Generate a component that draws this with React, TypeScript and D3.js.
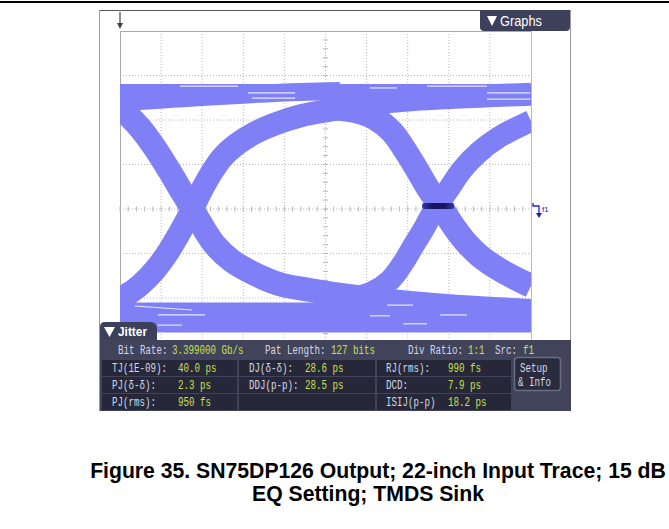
import React from 'react';
import * as d3 from 'd3';

const W = 669;
const H = 529;

// ---- Eye diagram traces (screen divisions: t = 0..10 horizontal, v = -4..4 vertical)
const topSettled: [number, number][] = [[-0.5, 2.63], [10.5, 2.63]];
const topSettling: [number, number][] = [[-0.19, 2.36], [0.56, 2.43], [2.43, 2.54], [4.38, 2.63], [5.35, 2.65]];
const bottomSettled: [number, number][] = [[-0.5, -2.44], [10.5, -2.44]];
const fallLeft: [number, number][] = [
  [-0.19, 2.45], [0.12, 2.18], [0.49, 1.82], [0.85, 1.37], [1.22, 0.83], [1.51, 0.38], [1.75, 0.02],
  [2.0, -0.38], [2.31, -0.81], [2.73, -1.17], [3.28, -1.46], [3.89, -1.69], [4.62, -1.82], [5.6, -1.96],
  [6.81, -2.09], [8.27, -2.2], [10.0, -2.29],
];
const riseLeft: [number, number][] = [
  [-0.19, -2.16], [0.12, -1.96], [0.49, -1.71], [0.85, -1.37], [1.17, -0.97], [1.46, -0.52], [1.65, -0.2],
  [1.8, 0.07], [1.95, 0.36], [2.19, 0.76], [2.48, 1.15], [2.85, 1.46], [3.28, 1.71], [3.77, 1.91],
  [4.38, 2.09], [5.11, 2.22], [6.08, 2.36], [7.3, 2.47], [10.0, 2.58],
];
const fallRight: [number, number][] = [
  [5.11, 2.27], [5.72, 2.2], [6.2, 2.04], [6.62, 1.73], [6.93, 1.33], [7.23, 0.88], [7.49, 0.47],
  [7.69, 0.2], [7.86, -0.02], [8.08, -0.34], [8.39, -0.72], [8.76, -1.06], [9.25, -1.37], [10.0, -1.73],
];
const riseRight: [number, number][] = [
  [4.87, -2.04], [5.6, -2.0], [6.13, -1.87], [6.57, -1.6], [6.89, -1.21], [7.15, -0.81], [7.4, -0.43],
  [7.59, -0.11], [7.79, 0.16], [8.03, 0.49], [8.32, 0.88], [8.71, 1.26], [9.2, 1.6], [10.0, 1.98],
];
// sparse gaps (white streaks) seen inside the rails: [t0, t1, v0, v1]
const railGaps: [number, number, number, number][] = [
  [1.46, 2.87, 2.76, 2.76],
  [3.11, 4.26, 2.61, 2.61],
  [3.21, 4.26, 2.49, 2.49],
  [6.08, 6.74, 2.72, 2.72],
  [7.47, 8.93, 2.76, 2.76],
  [8.93, 9.98, 2.61, 2.61],
  [8.93, 9.98, 2.47, 2.47],
  [0.36, 1.75, -2.18, -2.27],
  [0.92, 2.07, -2.38, -2.38],
  [6.08, 6.57, -2.4, -2.4],
  [6.5, 7.13, -2.16, -2.16],
  [6.89, 7.47, -2.58, -2.58],
  [7.79, 8.44, -2.38, -2.38],
  [0.92, 1.51, -2.61, -2.61],
];
const crossingSpan = [7.35, 8.13];
const crossingLevel = 0.07;

// ---- Jitter panel texts
const headerLabels = ['Bit Rate:', 'Pat Length:', 'Div Ratio:', 'Src:'];
const headerValues = ['3.399000 Gb/s', '127 bits', '1:1', 'f1'];
const jitterLabels = [
  ['TJ(1E-09):', 'DJ(δ-δ):', 'RJ(rms):'],
  ['PJ(δ-δ):', 'DDJ(p-p):', 'DCD:'],
  ['PJ(rms):', '', 'ISIJ(p-p)'],
];
const jitterValues = [
  ['40.0 ps', '28.6 ps', '990 fs'],
  ['2.3 ps', '28.5 ps', '7.9 ps'],
  ['950 fs', '', '18.2 ps'],
];
const captionLines = ['Figure 35. SN75DP126 Output; 22-inch Input Trace; 15 dB', 'EQ Setting; TMDS Sink'];

export default function App() {
  const x = d3.scaleLinear().domain([0, 10]).range([120, 531]);
  const y = d3.scaleLinear().domain([-4, 4]).range([387, 31]);
  const line = d3
    .line<[number, number]>()
    .x((d) => x(d[0]))
    .y((d) => y(d[1]))
    .curve(d3.curveCatmullRom.alpha(0.5));

  const eyeColor = '#8080f6';
  const traces: { d: [number, number][]; w: number }[] = [
    { d: topSettled, w: 16 },
    { d: topSettling, w: 18 },
    { d: bottomSettled, w: 30 },
    { d: fallLeft, w: 24 },
    { d: riseLeft, w: 23 },
    { d: fallRight, w: 24 },
    { d: riseRight, w: 22 },
  ];

  const gridColor = '#b8b8b8';
  const xt = d3.range(1, 10).map((i) => x(i));
  const yt = d3.range(-3, 4).map((i) => y(i));
  const minorX = d3.range(0, 50).map((i) => x(i / 5));
  const minorY = d3.range(-20, 20).map((i) => y(i / 5));

  const mono = "'Liberation Mono', 'DejaVu Sans Mono', monospace";
  const fs = 13.5;
  const sx = 5.5 / (0.6 * fs);
  const labelColor = '#d6d9e6';
  const valueColor = '#c9e04a';

  const headerLabelX = [118, 265, 408, 495];
  const headerValueX = [172, 331, 468, 523];
  const colLabelX = [112, 249, 386];
  const colValueX = [178, 305, 448];
  const rowBase = [372, 389, 406];
  const rowTop = [360, 377, 394];
  const cellX = [[102, 237], [239, 375], [377, 511]];

  const T = (s: string, tx: number, ty: number, fill: string, key: string) => (
    <text key={key} transform={`translate(${tx},${ty}) scale(${sx},1)`} fill={fill}>
      {s}
    </text>
  );

  return (
    <svg width={W} height={H} style={{ position: 'absolute', left: 0, top: 0, background: '#fff' }}>
      <defs>
        <clipPath id="plotClip">
          <rect x={120} y={31} width={411} height={303} />
        </clipPath>
        <linearGradient id="xband" x1="0" x2="1" y1="0" y2="0">
          <stop offset="0" stopColor="#3a3aa8" />
          <stop offset="0.3" stopColor="#151560" />
          <stop offset="0.7" stopColor="#151560" />
          <stop offset="1" stopColor="#3a3aa8" />
        </linearGradient>
      </defs>
      {/* top rule */}
      <rect x={0} y={1} width={W} height={2} fill="#000" />

      {/* scope frame */}
      <rect x={99.5} y={10.5} width={471} height={400} fill="#fff" stroke="#9a9aa2" strokeWidth={1} />
      <line x1={100} x2={480} y1={10.5} y2={10.5} stroke="#555" strokeWidth={1} />

      {/* trigger arrow */}
      <line x1={120} x2={120} y1={12} y2={26} stroke="#444" strokeWidth={1.2} />
      <path d="M117,23 L120,29 L123,23 Z" fill="#444" />

      {/* Graphs tab */}
      <path d="M480,10 H570 V27 Q570,31 566,31 H484 Q480,31 480,27 Z" fill="#3d405a" />
      <path d="M487,16 L497,16 L492,26 Z" fill="#fff" />
      <text x={500} y={26} fontFamily="'Liberation Sans', Arial, sans-serif" fontSize={14} fill="#fff" textLength={42} lengthAdjust="spacingAndGlyphs">
        Graphs
      </text>

      {/* grid */}
      <g>
        {xt.map((gx, i) => (
          <line key={'gx' + i} x1={gx} x2={gx} y1={31} y2={340} stroke={gridColor} strokeWidth={1} strokeDasharray="1,2" />
        ))}
        {yt.map((gy, i) => (
          <line key={'gy' + i} x1={120} x2={531} y1={gy} y2={gy} stroke={gridColor} strokeWidth={1} strokeDasharray="1,2" />
        ))}
        {minorX.map((mx, i) => (
          <line key={'mx' + i} x1={mx} x2={mx} y1={y(0) - 2.5} y2={y(0) + 2.5} stroke={gridColor} strokeWidth={1} />
        ))}
        {minorY.map((my, i) => (
          <line key={'my' + i} x1={x(5) - 2.5} x2={x(5) + 2.5} y1={my} y2={my} stroke={gridColor} strokeWidth={1} />
        ))}
        <line x1={120} x2={531} y1={31.5} y2={31.5} stroke="#aaa" strokeWidth={1} />
        <line x1={120.5} x2={120.5} y1={31} y2={340} stroke="#aaa" strokeWidth={1} />
        <line x1={531.5} x2={531.5} y1={31} y2={340} stroke="#bbb" strokeWidth={1} />
      </g>

      {/* eye traces */}
      <g clipPath="url(#plotClip)">
        {traces.map((t, i) => (
          <path key={'tr' + i} d={line(t.d) || ''} fill="none" stroke={eyeColor} strokeWidth={t.w} strokeLinejoin="round" />
        ))}
        {railGaps.map((g, i) => (
          <line key={'gap' + i} x1={x(g[0])} x2={x(g[1])} y1={y(g[2])} y2={y(g[3])} stroke="#fff" strokeOpacity={0.8} strokeWidth={1.2} />
        ))}
        <rect
          x={x(crossingSpan[0])}
          y={y(crossingLevel) - 3}
          width={x(crossingSpan[1]) - x(crossingSpan[0])}
          height={6}
          rx={2}
          fill="url(#xband)"
        />
      </g>

      {/* f1 marker */}
      <g stroke="#2020d0" fill="none" strokeWidth={1.3}>
        <path d="M533,203 V206 H539 V214" />
      </g>
      <path d="M536,213 L542,213 L539,218 Z" fill="#2020d0" />
      <text x={542} y={212} fontFamily="'Liberation Sans', Arial, sans-serif" fontSize={8} fill="#2020d0">
        f1
      </text>

      {/* Jitter panel */}
      <path d="M100,340 V327 Q100,322 105,322 H150 Q157,322 157,329 V340 Z" fill="#3d405a" />
      <path d="M104,327 L115,327 L109.5,337 Z" fill="#fff" />
      <text x={118} y={336} fontFamily="'Liberation Sans', Arial, sans-serif" fontWeight="bold" fontSize={12.5} fill="#fff" textLength={29} lengthAdjust="spacingAndGlyphs">
        Jitter
      </text>
      <rect x={100} y={340} width={471} height={71} fill="#40435a" />
      {rowTop.map((ry, r) =>
        cellX.map((c, ci) => (
          <rect key={'cell' + r + ci} x={c[0]} y={ry} width={c[1] - c[0]} height={16} fill="#262839" />
        ))
      )}
      {/* setup button */}
      <rect x={514.5} y={357.5} width={46} height={33} rx={3} fill="#2a2c3e" stroke="#6a6d80" strokeWidth={1.5} />
      <g fontFamily={mono} fontSize={fs}>
        {T('Setup', 520, 372, labelColor, 'su1')}
        {T('& Info', 518, 386, labelColor, 'su2')}
      </g>

      <g fontFamily={mono} fontSize={fs}>
        {headerLabels.map((s, i) => T(s, headerLabelX[i], 354, labelColor, 'hl' + i))}
        {headerValues.map((s, i) => T(s, headerValueX[i], 354, valueColor, 'hv' + i))}
        {jitterLabels.map((row, r) => row.map((s, c) => (s ? T(s, colLabelX[c], rowBase[r], labelColor, 'jl' + r + c) : null)))}
        {jitterValues.map((row, r) => row.map((s, c) => (s ? T(s, colValueX[c], rowBase[r], valueColor, 'jv' + r + c) : null)))}
      </g>

      {/* caption */}
      <g fontFamily="'Liberation Sans', Arial, sans-serif" fontWeight="bold" fontSize={21.2} fill="#000" textAnchor="middle">
        <text x={378} y={478}>{captionLines[0]}</text>
        <text x={368} y={501}>{captionLines[1]}</text>
      </g>
    </svg>
  );
}
